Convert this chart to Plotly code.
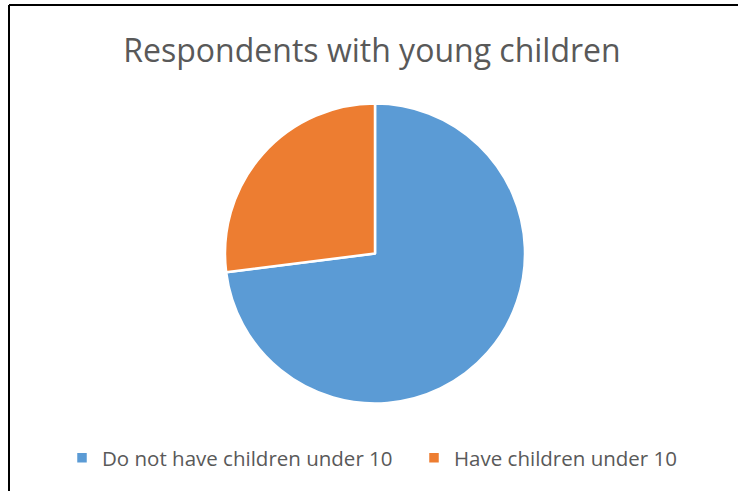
import plotly.graph_objects as go

# Survey breakdown of respondents by whether they have young children
labels = ["Do not have children under 10", "Have children under 10"]
values = [73, 27]
colors = ["#5B9BD5", "#ED7D31"]
title_text = "Respondents with young children"

W, H = 738, 491

fig = go.Figure(
    go.Pie(
        labels=labels,
        values=values,
        sort=False,
        direction="clockwise",
        rotation=0,
        textinfo="none",
        hoverinfo="label+percent",
        marker=dict(colors=colors, line=dict(color="white", width=2.5)),
        domain=dict(x=[225 / W, 525 / W], y=[1 - 404 / H, 1 - 103 / H]),
    )
)

# Chart frame: top and left edges
fig.add_shape(type="line", xref="paper", yref="paper",
              x0=9 / W, x1=1, y0=1 - 5 / H, y1=1 - 5 / H,
              line=dict(color="black", width=2))
fig.add_shape(type="line", xref="paper", yref="paper",
              x0=9 / W, x1=9 / W, y0=0, y1=1 - 5 / H,
              line=dict(color="black", width=2))

fig.update_layout(
    width=W,
    height=H,
    margin=dict(l=0, r=0, t=0, b=0, autoexpand=False),
    paper_bgcolor="white",
    plot_bgcolor="white",
    font=dict(family="Open Sans", color="#595959"),
    title=dict(
        text=title_text,
        x=372 / W,
        xanchor="center",
        y=1 - 51 / H,
        yanchor="middle",
        font=dict(family="Open Sans", size=32, color="#595959"),
    ),
    legend=dict(
        orientation="h",
        xref="container",
        yref="container",
        x=414 / W,
        xanchor="center",
        y=1 - 458 / H,
        yanchor="middle",
        entrywidth=307,
        font=dict(family="Open Sans", size=20.5, color="#595959"),
        traceorder="normal",
    ),
    showlegend=True,
)

fig.write_html("out.html")
